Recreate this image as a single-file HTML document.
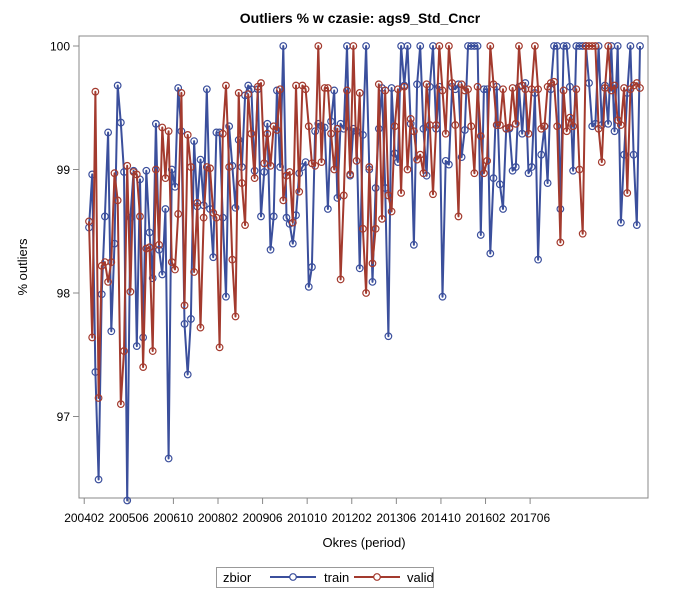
<!DOCTYPE html>
<html><head><meta charset="utf-8">
<style>
body{margin:0;background:#fff;}
svg{display:block;font-family:"Liberation Sans",Arial,sans-serif;}
</style></head>
<body>
<svg id="chart" width="700" height="600" viewBox="0 0 700 600">
<rect x="0" y="0" width="700" height="600" fill="#fff"/>
<text x="360" y="23" text-anchor="middle" font-size="14" font-weight="bold" fill="#000">Outliers % w czasie: ags9_Std_Cncr</text>
<rect x="79" y="36" width="569" height="462" fill="none" stroke="#888" stroke-width="1"/>
<g id="yaxis"></g>
<g id="xaxis"></g>
<text x="27" y="267" text-anchor="middle" font-size="13" fill="#000" transform="rotate(-90 27 267)">% outliers</text>
<text x="364" y="547" text-anchor="middle" font-size="13" fill="#000">Okres (period)</text>
<g id="series"></g>
<g>
<rect x="216.5" y="567.5" width="217" height="20" fill="#fff" stroke="#999"/>
<text x="223" y="582" font-size="13" fill="#000">zbior</text>
<g>
<line x1="270" y1="577" x2="316" y2="577" stroke="#3b4f9c" stroke-width="2"/>
<circle cx="293" cy="577" r="3.3" fill="#fff" stroke="#3b4f9c" stroke-width="1.2"/>
<text x="324" y="582" font-size="13" fill="#000">train</text>
</g>
<g>
<line x1="354" y1="577" x2="400" y2="577" stroke="#a33a2e" stroke-width="2"/>
<circle cx="377" cy="577" r="3.3" fill="#fff" stroke="#a33a2e" stroke-width="1.2"/>
<text x="407" y="582" font-size="13" fill="#000">valid</text>
</g>
</g>
</svg>
<script>
const trainValues = [98.53,98.96,97.36,96.49,97.99,98.62,99.30,97.69,98.40,99.68,99.38,98.98,96.32,98.61,98.99,97.57,98.92,97.64,98.99,98.49,98.12,99.37,98.35,98.15,98.68,96.66,99.0,98.86,99.66,99.31,
97.75,97.34,97.79,99.23,98.70,99.08,98.71,99.65,98.68,98.29,99.30,99.30,98.61,97.97,99.35,99.03,98.69,99.24,99.02,99.60,99.68,99.65,98.99,99.65,98.62,98.98,99.37,98.35,98.62,
99.64,99.02,100,98.61,98.56,98.40,98.63,98.97,99.02,99.06,98.05,98.21,99.31,99.37,99.35,99.34,98.68,99.39,99.64,98.77,99.37,99.33,100,98.95,99.33,99.31,98.2,99.28,100,99.00,
98.09,98.85,99.33,99.66,98.85,97.65,99.66,99.13,99.06,100,99.68,100,99.37,98.39,99.69,100,99.33,98.95,99.67,100,99.33,99.67,97.97,99.07,99.04,99.67,99.65,99.69,99.1,99.32,
100,100,100,100,98.47,99.65,99.65,98.32,98.93,99.67,98.88,98.68,99.33,99.33,98.99,99.02,99.67,99.29,99.70,98.97,99.02,99.62,98.27,99.12,99.35,98.89,99.65,100,100,98.68,
100,100,99.67,98.99,100,100,100,100,99.70,99.35,99.37,100,99.36,99.68,99.37,100,99.31,100,98.57,99.12,99.62,100,99.12,98.55,100];
const validValues = [98.58,97.64,99.63,97.15,98.22,98.25,98.09,98.25,98.97,98.75,97.10,97.53,99.03,98.01,98.98,98.96,98.62,97.40,98.36,98.37,97.53,99.0,98.39,99.34,98.93,99.31,98.25,98.19,98.64,99.62,
97.90,99.28,99.02,98.17,98.73,97.72,98.61,99.02,99.01,98.65,98.61,97.56,99.29,99.68,99.02,98.27,97.81,99.62,98.89,98.55,99.61,99.29,98.93,99.67,99.70,99.05,99.29,99.03,99.35,
99.32,99.65,98.75,98.95,98.98,98.57,99.68,98.82,99.68,99.65,99.35,99.05,99.03,100,99.06,99.66,99.66,99.29,99.0,99.33,98.11,98.79,99.64,98.96,100,99.07,99.62,98.52,98.0,99.02,
98.24,98.52,99.69,98.60,99.64,98.79,98.66,99.35,99.65,98.81,99.67,99.00,99.41,99.31,99.08,99.12,98.97,99.69,99.36,98.80,99.36,100,99.64,99.29,100,99.70,99.36,98.62,99.69,99.64,
99.65,99.35,98.97,99.67,99.27,98.97,99.07,100,99.69,99.36,99.36,99.65,99.33,99.34,99.66,99.37,100,99.68,99.65,99.29,99.65,100,99.65,99.33,99.35,99.67,99.70,99.71,99.35,98.41,
99.64,99.31,99.42,99.35,99.65,99.0,98.48,100,100,100,100,99.33,99.06,99.66,100,99.64,99.68,99.40,99.36,99.66,98.81,99.65,99.68,99.70,99.66];
const xTickLabels = ["200402","200506","200610","200802","200906","201010","201202","201306","201410","201602","201706"];
const xTickIndex = [-1.5,12.5,26.5,40.5,54.5,68.5,82.5,96.5,110.5,124.5,138.5];
const yTickValues = [97,98,99,100];

const NS = "http://www.w3.org/2000/svg";
const n = Math.max(trainValues.length, validValues.length);
function xScale(i){ return 89 + i * (551 / (n - 1)); }
function yScale(v){ return 46 + (100 - v) * 123.5; }
function mk(tag, attrs, parent){ const e = document.createElementNS(NS, tag); for (const k in attrs) e.setAttribute(k, attrs[k]); parent.appendChild(e); return e; }

const yg = document.getElementById('yaxis');
yTickValues.forEach(v => {
  const y = yScale(v);
  const t = mk('line', {x1:73, x2:79, y1:y, y2:y, stroke:'#888'}, yg);
  
  
  const l = mk('text', {x:70, y:y+4.5, 'text-anchor':'end', 'font-size':12, fill:'#000'}, yg);
  l.textContent = v;
  
  
});
const xg = document.getElementById('xaxis');
xTickIndex.forEach((idx, k) => {
  const x = xScale(idx);
  const t = mk('line', {x1:x, x2:x, y1:498, y2:504, stroke:'#888'}, xg);
  
  
  const l = mk('text', {x:x, y:522, 'text-anchor':'middle', 'font-size':12, fill:'#000'}, xg);
  l.textContent = xTickLabels[k];
  
  
});

const sg = document.getElementById('series');
function drawSeries(vals, color, name){
  const g = mk('g', {}, sg);
  
  
  const pts = vals.map((v,i) => xScale(i).toFixed(1) + ',' + yScale(v).toFixed(1)).join(' ');
  const pl = mk('polyline', {points:pts, fill:'none', stroke:color, 'stroke-width':2, 'stroke-linejoin':'round'}, g);
  
  
  vals.forEach((v,i) => {
    const c = mk('circle', {cx:xScale(i), cy:yScale(v), r:3.3, fill:'none', stroke:color, 'stroke-width':1.2}, g);
    
    
  });
}
drawSeries(trainValues, '#3b4f9c', 'train');
drawSeries(validValues, '#a33a2e', 'valid');
</script>
</body></html>
